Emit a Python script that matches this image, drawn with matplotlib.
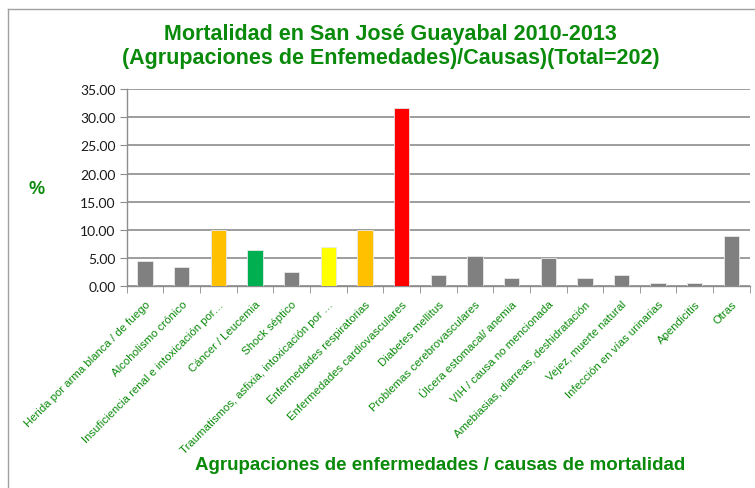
import numpy as np
import matplotlib
matplotlib.use('Agg')
import matplotlib.pyplot as plt
from matplotlib.lines import Line2D

causas = [
    'Herida por arma blanca / de fuego',
    'Alcoholismo crónico',
    'Insuficiencia renal e intoxicación por…',
    'Cáncer / Leucemia',
    'Shock séptico',
    'Traumatismos, asfixia, intoxicación por …',
    'Enfermedades respiratorias',
    'Enfermedades cardiovasculares',
    'Diabetes mellitus',
    'Problemas cerebrovasculares',
    'Úlcera estomacal/ anemia',
    'VIH / causa no mencionada',
    'Amebiasias, diarreas, deshidratación',
    'Vejez, muerte natural',
    'Infección en vías urinarias',
    'Apendicitis',
    'Otras',
]
porcentajes = [4.46, 3.47, 9.90, 6.44, 2.48, 6.93, 9.90, 31.68, 1.98,
               5.45, 1.49, 4.95, 1.49, 1.98, 0.50, 0.50, 8.91]
colores = ['#808080', '#808080', '#FFC000', '#00B050', '#808080', '#FFFF00',
           '#FFC000', '#FF0000', '#808080', '#808080', '#808080', '#808080',
           '#808080', '#808080', '#808080', '#808080', '#808080']

verde = '#0A8A0A'
gris = '#8C8C8C'

fig = plt.figure(figsize=(7.55, 4.89), dpi=100)
ax = fig.add_axes([0.168, 0.4125, 0.825, 0.4035])

x = np.arange(len(causas))
ax.bar(x, porcentajes, width=0.42, color=colores, edgecolor='#E8E8E8',
       linewidth=0.6, zorder=3)

ax.set_xlim(-0.5, len(causas) - 0.5)
ax.set_ylim(0, 35)
ax.set_yticks(np.arange(0, 36, 5))
ax.set_yticklabels(['{:.2f}'.format(v) for v in np.arange(0, 36, 5)],
                   fontsize=10, family='Lato', color='#1a1a1a')
ax.yaxis.grid(True, color=gris, linewidth=1.2, zorder=0)

ax.set_xticks(x)
ax.set_xticklabels(causas, rotation=45, ha='right', rotation_mode='anchor',
                   fontsize=8.2, family='Liberation Sans', color=verde)
ax.set_xticks(np.arange(-0.5, len(causas)), minor=True)
ax.tick_params(axis='x', which='major', length=0, pad=9)
ax.tick_params(axis='x', which='minor', length=5, color=gris, direction='out')
ax.tick_params(axis='y', length=5, color=gris, direction='out', pad=3)

for s in ['top', 'right']:
    ax.spines[s].set_visible(False)
for s in ['left', 'bottom']:
    ax.spines[s].set_color(gris)
    ax.spines[s].set_linewidth(1.0)

fig.text(0.517, 0.929, 'Mortalidad en San José Guayabal 2010-2013',
         ha='center', va='center', fontsize=15.5, fontweight='bold',
         family='Liberation Sans', color=verde)
fig.text(0.517, 0.881, '(Agrupaciones de Enfemedades)/Causas)(Total=202)',
         ha='center', va='center', fontsize=15.5, fontweight='bold',
         family='Liberation Sans', color=verde)
fig.text(0.049, 0.612, '%', ha='center', va='center', fontsize=13,
         fontweight='bold', family='Liberation Sans', color=verde)
fig.text(0.583, 0.049, 'Agrupaciones de enfermedades / causas de mortalidad',
         ha='center', va='center', fontsize=13.5, fontweight='bold',
         family='Liberation Sans', color=verde)

# marco del grafico
fig.add_artist(Line2D([8 / 755, 8 / 755], [0, 1 - 10 / 489],
                      transform=fig.transFigure, color='#A0A0A0', linewidth=1))
fig.add_artist(Line2D([8 / 755, 1], [1 - 10 / 489, 1 - 10 / 489],
                      transform=fig.transFigure, color='#A0A0A0', linewidth=1))

fig.savefig('out.png', dpi=100)
